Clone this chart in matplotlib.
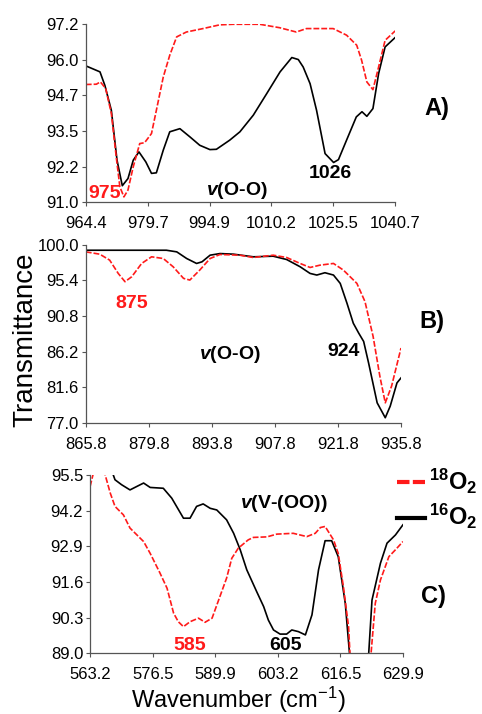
import matplotlib
matplotlib.use('Agg')
import matplotlib.pyplot as plt
from matplotlib.lines import Line2D

plt.rcParams['font.family'] = ['Liberation Sans', 'DejaVu Sans']
plt.rcParams['mathtext.fontset'] = 'custom'
plt.rcParams['mathtext.it'] = 'Liberation Sans:bold:italic'
plt.rcParams['mathtext.rm'] = 'Liberation Sans'

# Panel A: 900-1050 region
a_x16 = [964.4, 967.9, 969.1, 970.7, 972.1, 973.4, 974.8, 976.1, 977.5, 979.2, 980.6, 981.8,
         983.5, 985.1, 987.6, 990.1, 992.5, 995.0, 996.6, 999.9, 1002.4, 1005.7, 1009.0,
         1012.3, 1015.2, 1016.8, 1018.0, 1019.7, 1021.3, 1023.4, 1025.5, 1026.7, 1028.7,
         1031.1, 1032.5, 1033.7, 1035.2, 1036.6, 1038.2, 1040.7]
a_y16 = [95.75, 95.54, 95.07, 94.2, 92.46, 91.57, 91.82, 92.46, 92.75, 92.4, 92.0, 92.02,
         92.81, 93.45, 93.56, 93.27, 92.98, 92.83, 92.84, 93.16, 93.45, 94.03, 94.78,
         95.54, 96.04, 95.97, 95.71, 95.13, 94.2, 92.69, 92.38, 92.48, 93.16,
         93.97, 94.15, 93.99, 94.26, 95.48, 96.41, 96.74]
a_x18 = [964.4, 967.0, 968.0, 969.3, 970.7, 971.9, 972.8, 973.8, 974.8, 976.1, 977.7, 978.9,
         980.6, 981.8, 983.5, 985.1, 986.8, 989.2, 993.3, 997.4, 1000.7, 1007.3, 1012.2,
         1016.3, 1018.8, 1025.4, 1028.7, 1031.2, 1032.4, 1033.7, 1035.2, 1036.6, 1038.2, 1040.7]
a_y18 = [95.1, 95.11, 95.19, 94.96, 94.09, 92.58, 91.53, 91.18, 91.42, 92.23, 93.04, 93.07,
         93.39, 94.2, 95.36, 96.12, 96.76, 96.93, 97.05, 97.18, 97.2, 97.2, 97.08,
         96.93, 97.05, 97.05, 96.82, 96.47, 95.95, 95.19, 94.92, 95.71, 96.64, 96.97]
a_xticks = [964.4, 979.66, 994.92, 1010.18, 1025.44, 1040.7]
a_xlabels = ['964.4', '979.7', '994.9', '1010.2', '1025.5', '1040.7']
a_yticks = [91.0, 92.24, 93.48, 94.72, 95.96, 97.2]
a_ylabels = ['91.0', '92.2', '93.5', '94.7', '96.0', '97.2']

# Panel B
b_x16 = [865.8, 868.9, 883.7, 886.0, 888.2, 890.4, 891.6, 893.4, 895.6, 898.6, 903.0, 907.4,
         910.4, 913.4, 915.6, 917.1, 918.9, 920.8, 922.3, 923.8, 925.2, 926.4, 927.5, 928.6,
         930.5, 932.3, 933.4, 934.9, 935.8]
b_y16 = [99.31, 99.31, 99.31, 99.1, 98.24, 97.6, 97.81, 98.67, 98.88, 98.8, 98.46, 98.54,
         98.11, 97.17, 96.31, 96.1, 96.4, 96.1, 95.02, 92.45, 89.87, 88.59, 87.51, 84.72,
         79.57, 77.64, 79.14, 82.15, 82.79]
b_x18 = [865.8, 868.9, 871.1, 873.0, 874.5, 876.0, 878.2, 880.4, 883.0, 885.2, 887.5, 888.9,
         891.1, 893.4, 895.6, 900.0, 903.0, 907.4, 910.4, 913.4, 915.6, 917.8, 920.8, 923.0,
         926.0, 927.8, 929.6, 931.1, 932.3, 933.7, 935.8]
b_y18 = [99.1, 98.8, 98.03, 96.31, 95.24, 95.88, 97.6, 98.46, 98.24, 97.17, 95.67, 95.45,
         96.74, 98.24, 98.76, 98.67, 98.37, 98.67, 98.37, 97.6, 97.08, 97.38, 97.6, 96.74,
         95.02, 92.66, 88.16, 83.01, 79.57, 81.72, 86.66]
b_xticks = [865.8, 879.8, 893.8, 907.8, 921.8, 935.8]
b_xlabels = ['865.8', '879.8', '893.8', '907.8', '921.8', '935.8']
b_yticks = [77.0, 81.6, 86.2, 90.8, 95.4, 100.0]
b_ylabels = ['77.0', '81.6', '86.2', '90.8', '95.4', '100.0']

# Panel C
c_x16 = [567.5, 568.0, 568.5, 569.9, 571.7, 573.2, 574.6, 576.0, 578.8, 580.6, 583.1, 584.5,
         585.9, 587.3, 588.8, 590.2, 592.3, 593.8, 595.2, 596.6, 598.7, 600.2, 601.2, 602.3,
         603.7, 605.1, 606.2, 607.6, 609.1, 610.5, 611.9, 613.3, 614.7, 616.1, 617.6, 618.5,
         619.5, 621.8, 622.6, 623.3, 625.1, 626.5, 628.3, 629.9]
c_y16 = [96.0, 95.56, 95.32, 95.14, 94.95, 95.08, 95.2, 95.04, 95.01, 94.65, 93.92, 93.92,
         94.35, 94.44, 94.28, 94.22, 93.86, 93.37, 92.77, 92.04, 91.25, 90.7, 90.21, 89.85,
         89.7, 89.7, 89.85, 89.79, 89.67, 90.4, 92.04, 93.1, 93.1, 92.52, 90.82, 89.0,
         86.5, 86.5, 89.0, 90.94, 92.28, 93.01, 93.31, 93.68]
c_x18 = [563.2, 563.8, 565.0, 566.4, 567.5, 568.5, 570.3, 571.7, 574.6, 576.0, 578.1, 579.6,
         581.0, 582.0, 583.1, 584.5, 586.3, 587.7, 589.2, 590.6, 592.3, 593.4, 594.8, 596.9,
         598.0, 600.9, 603.0, 606.5, 609.4, 611.2, 612.3, 613.3, 615.1, 616.1, 617.2, 618.3,
         618.6, 619.8, 622.2, 623.1, 624.0, 625.1, 626.9, 628.3, 629.9]
c_y18 = [95.08, 95.5, 96.2, 95.5, 94.83, 94.35, 94.04, 93.56, 93.07, 92.64, 91.92, 91.37,
         90.46, 90.15, 89.97, 90.15, 90.28, 90.13, 90.28, 90.94, 91.74, 92.46, 92.83, 93.13,
         93.22, 93.24, 93.34, 93.37, 93.25, 93.37, 93.58, 93.62, 93.13, 92.64, 91.43, 89.97,
         89.0, 86.5, 86.5, 89.0, 90.82, 91.67, 92.52, 92.77, 93.07]
c_xticks = [563.2, 576.54, 589.88, 603.22, 616.56, 629.9]
c_xlabels = ['563.2', '576.5', '589.9', '603.2', '616.5', '629.9']
c_yticks = [89.0, 90.3, 91.6, 92.9, 94.2, 95.5]
c_ylabels = ['89.0', '90.3', '91.6', '92.9', '94.2', '95.5']

RED = '#ff1a1a'
DASH = (3.5, 1.2)

fig = plt.figure(figsize=(4.82, 7.14), dpi=100)


def panel(rect, x16, y16, x18, y18, xticks, xlabels, yticks, ylabels):
    ax = fig.add_axes(rect)
    ax.plot(x16, y16, color='black', lw=1.2)
    ax.plot(x18, y18, color=RED, lw=1.2, dashes=DASH)
    ax.set_xlim(xticks[0], xticks[-1])
    ax.set_ylim(yticks[0], yticks[-1])
    ax.set_xticks(xticks)
    ax.set_xticklabels(xlabels)
    ax.set_yticks(yticks)
    ax.set_yticklabels(ylabels)
    ax.tick_params(labelsize=12, length=3, width=0.8, color='#555555', pad=2)
    ax.tick_params(axis='x', pad=7)
    for s in ['top', 'right']:
        ax.spines[s].set_visible(False)
    for s in ['left', 'bottom']:
        ax.spines[s].set_color('#555555')
        ax.spines[s].set_linewidth(0.9)
    return ax


axA = panel([0.178, 0.717, 0.642, 0.249], a_x16, a_y16, a_x18, a_y18,
            a_xticks, a_xlabels, a_yticks, a_ylabels)
axB = panel([0.178, 0.408, 0.654, 0.249], b_x16, b_y16, b_x18, b_y18,
            b_xticks, b_xlabels, b_yticks, b_ylabels)
axC = panel([0.187, 0.085, 0.649, 0.250], c_x16, c_y16, c_x18, c_y18,
            c_xticks, c_xlabels, c_yticks, c_ylabels)

bold = dict(fontsize=14, fontweight='bold', ha='center', va='center')
axA.text(969.0, 91.3, '975', color=RED, **bold)
axA.text(1024.6, 92.0, '1026', color='black', **bold)
axA.text(1001.6, 91.42, r'$\mathit{v}$(O-O)', color='black', **bold)
axB.text(876.0, 92.36, '875', color=RED, **bold)
axB.text(923.0, 86.2, '924', color='black', **bold)
axB.text(897.8, 85.8, r'$\mathit{v}$(O-O)', color='black', **bold)
axC.text(584.4, 89.28, '585', color=RED, **bold)
axC.text(604.8, 89.28, '605', color='black', **bold)
axC.text(604.4, 94.47, r'$\mathit{v}$(V-(OO))', color='black', **bold)

fig.text(437 / 482, 1 - 108 / 714, 'A)', fontsize=17, fontweight='bold', ha='center', va='center')
fig.text(432 / 482, 1 - 322 / 714, 'B)', fontsize=17, fontweight='bold', ha='center', va='center')
fig.text(433 / 482, 1 - 597 / 714, 'C)', fontsize=17, fontweight='bold', ha='center', va='center')

fig.text(25 / 482, 1 - 340 / 714, 'Transmittance', fontsize=20, rotation=90,
         ha='center', va='center')
fig.text(238 / 482, 1 - 700 / 714, r'Wavenumber (cm$\mathregular{^{-1}}$)', fontsize=17,
         ha='center', va='center')

# legend
fig.add_artist(Line2D([397 / 482, 425 / 482], [1 - 482 / 714] * 2, color=RED, lw=3,
                      dashes=(3.0, 0.8), transform=fig.transFigure))
fig.add_artist(Line2D([397 / 482, 425 / 482], [1 - 518 / 714] * 2, color='black', lw=3,
                      transform=fig.transFigure))
fig.text(429 / 482, 1 - 481 / 714, r'$\mathregular{^{18}}$O$\mathregular{_2}$', fontsize=17,
         fontweight='bold', ha='left', va='center')
fig.text(429 / 482, 1 - 516 / 714, r'$\mathregular{^{16}}$O$\mathregular{_2}$', fontsize=17,
         fontweight='bold', ha='left', va='center')

fig.savefig('out.png', dpi=100)
